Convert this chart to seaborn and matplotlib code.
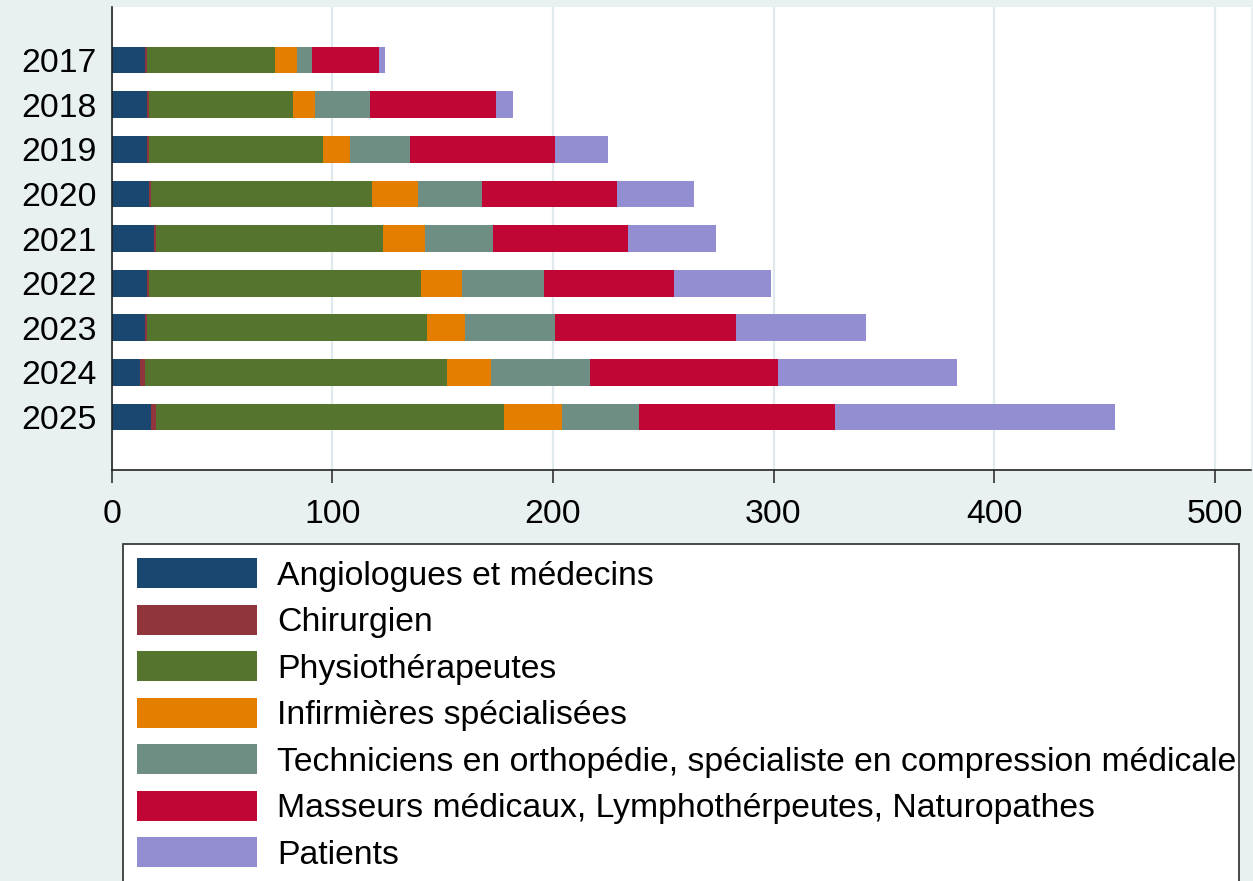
import matplotlib
matplotlib.use("Agg")
import matplotlib.pyplot as plt
from matplotlib.patches import Patch, Rectangle
import numpy as np
import pandas as pd
import seaborn as sns

# ---------------- data ----------------
years = ["2017", "2018", "2019", "2020", "2021", "2022", "2023", "2024", "2025"]
categories = [
    "Angiologues et médecins",
    "Chirurgien",
    "Physiothérapeutes",
    "Infirmières spécialisées",
    "Techniciens en orthopédie, spécialiste en compression médicale",
    "Masseurs médicaux, Lymphothérpeutes, Naturopathes",
    "Patients",
]
angiologues = [15, 16, 16, 17, 19, 16, 15, 13, 18]
chirurgien = [1, 1, 1, 1, 1, 1, 1, 2, 2]
physiotherapeutes = [58, 65, 79, 100, 103, 123, 127, 137, 158]
infirmieres = [10, 10, 12, 21, 19, 19, 17, 20, 26]
techniciens = [7, 25, 27, 29, 31, 37, 41, 45, 35]
masseurs = [30, 57, 66, 61, 61, 59, 82, 85, 89]
patients = [3, 8, 24, 35, 40, 44, 59, 81, 127]
xticks = [0, 100, 200, 300, 400, 500]

series = [angiologues, chirurgien, physiotherapeutes, infirmieres,
          techniciens, masseurs, patients]
colors = ["#1A476F", "#90353B", "#55752F", "#E37E00",
          "#6E8E84", "#C10534", "#938DD2"]

# ---------------- style ----------------
sns.set_theme(style="white")
plt.rcParams["font.family"] = ["Liberation Sans", "DejaVu Sans"]
plt.rcParams["text.color"] = "black"
bg = "#E8F0F2"
FS = 24.3

W, H = 1253, 881
fig = plt.figure(figsize=(W / 100, H / 100), dpi=100, facecolor=bg)
ax = fig.add_axes([111.7 / W, 1 - 469.5 / H, (1251 - 111.7) / W, (469.5 - 7) / H])
ax.set_facecolor("white")

# stacked bars: draw cumulative totals from the last category to the first
df = pd.DataFrame({c: s for c, s in zip(categories, series)}, index=years)
cum = df.cumsum(axis=1)
for i in range(len(categories) - 1, -1, -1):
    d = pd.DataFrame({"year": years, "value": cum[categories[i]].values})
    sns.barplot(data=d, x="value", y="year", orient="h", color=colors[i],
                saturation=1, width=0.6, errorbar=None, linewidth=0, ax=ax)

# ---------------- axes ----------------
ax.set_xlim(0, (1251 - 111.7) / 2.206)
ax.set_ylim(8 + 1.175, -1.188)
ax.set_xticks(xticks)
ax.set_xticklabels([str(t) for t in xticks])
ax.set_xlabel("")
ax.set_ylabel("")
ax.set_axisbelow(True)
ax.grid(axis="x", color="#E0EAED", linewidth=1.6)
ax.grid(axis="y", visible=False)

for s in ["top", "right"]:
    ax.spines[s].set_visible(False)
for s in ["left", "bottom"]:
    ax.spines[s].set_color("#222222")
    ax.spines[s].set_linewidth(1.2)

ax.tick_params(axis="x", direction="out", length=9, width=1.1,
               color="#222222", pad=12, labelsize=FS, labelcolor="black",
               bottom=True)
ax.tick_params(axis="y", length=0, pad=10.5, labelsize=FS, labelcolor="black",
               left=False)

# ---------------- legend ----------------
# legend box (extends past the bottom edge, as in the reference)
box = Rectangle((123 / W, 1 - 900 / H), (1239 - 123) / W, (900 - 544) / H,
                transform=fig.transFigure, facecolor="white",
                edgecolor="#3A3A3A", linewidth=1.3, zorder=1)
fig.patches.append(box)

handles = [Patch(facecolor=c, edgecolor="none") for c in colors]
leg = fig.legend(handles, categories, loc="upper left",
                 bbox_to_anchor=(123 / W, 1 - 544 / H),
                 bbox_transform=fig.transFigure, borderaxespad=0,
                 fontsize=FS, handlelength=3.55, handleheight=1.0,
                 handletextpad=0.6, labelspacing=0.38, borderpad=0.42,
                 frameon=False, ncol=1)
leg.set_zorder(2)
for t in leg.get_texts():
    t.set_color("black")

fig.savefig("out.png", dpi=100, facecolor=bg)
